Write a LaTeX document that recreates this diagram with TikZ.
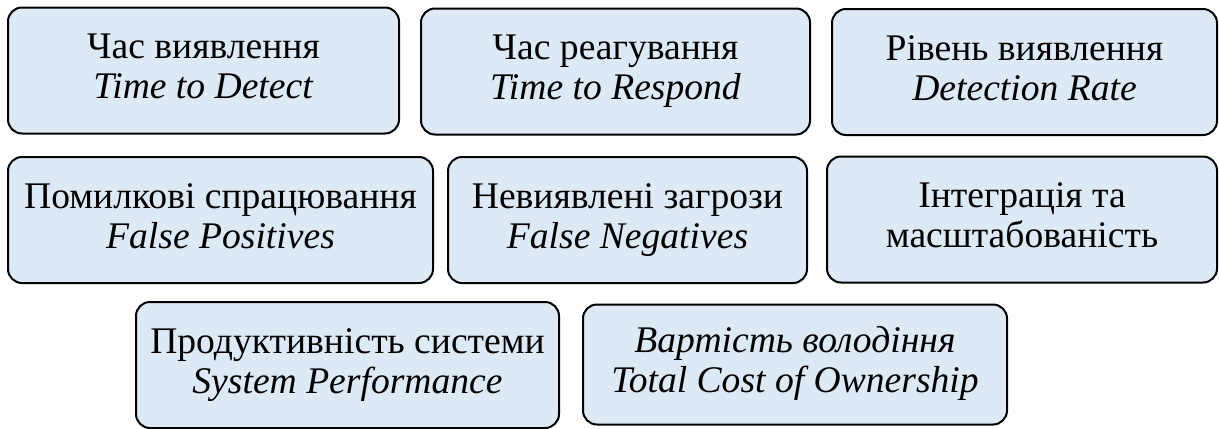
\documentclass[tikz,border=0pt]{standalone}
\usepackage{fontspec}
\setmainfont{Liberation Serif}
\usepackage{xcolor}
\usetikzlibrary{positioning}
\definecolor{boxfill}{RGB}{222,233,246}
\tikzset{
    metric/.style={draw=black, fill=boxfill, line width=1pt, rounded corners=7pt,
        align=center, inner sep=0pt, minimum height=63pt,
        font=\fontsize{18.8pt}{20pt}\selectfont}
}

\begin{document}
\begin{tikzpicture}[x=0.5pt, y=-0.5pt]

    % Picture frame
    \useasboundingbox (0,0) rectangle (1219,428);

    % Top row: detection and response
    \node[metric, minimum width=195.5pt] (detect) at (203.5,70.5) {Час виявлення\strut\\\textit{Time to Detect}\strut};
    \node[metric, minimum width=194.5pt] (respond) at (615.5,71.5) {Час реагування\strut\\\textit{Time to Respond}\strut};
    \node[metric, minimum width=192.5pt] (rate) at (1024.5,72) {Рівень виявлення\strut\\\textit{Detection Rate}\strut};

    % Middle row: errors and integration
    \node[metric, minimum width=212.5pt] (falsepos) at (220.5,220) {Помилкові спрацювання\strut\\\textit{False Positives}\strut};
    \node[metric, minimum width=179.5pt] (falseneg) at (627.5,220) {Невиявлені загрози\strut\\\textit{False Negatives}\strut};
    \node[metric, minimum width=195pt] (integr) at (1022,219.5) {Інтеграція та\strut\\масштабованість\strut};

    % Bottom row: performance and cost
    \node[metric, minimum width=211.5pt] (perf) at (347.5,365) {Продуктивність системи\strut\\\textit{System Performance}\strut};
    \node[metric, minimum width=212pt, minimum height=60pt] (cost) at (795,364.5) {\textit{Вартість володіння}\strut\\\textit{Total Cost of Ownership}\strut};

\end{tikzpicture}
\end{document}
